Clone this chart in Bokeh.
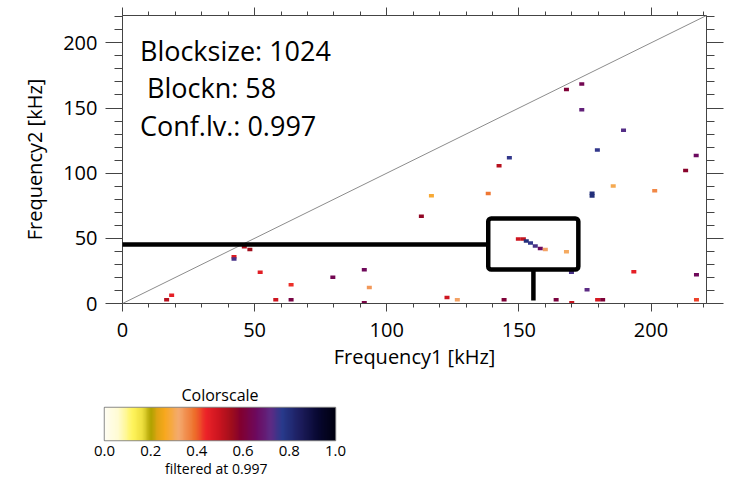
import numpy as np
from bokeh.plotting import figure
from bokeh.layouts import column, row
from bokeh.models import (Label, Slope, BoxAnnotation, Arrow, LinearAxis, FixedTicker,
                          LinearColorMapper, Range1d, PrintfTickFormatter, ColumnDataSource,
                          CustomJSTickFormatter)
from bokeh.transform import linear_cmap
from bokeh.embed import file_html
from bokeh.resources import INLINE

# ---------------- data ----------------
freq1 = [42.2, 42.2, 46.1, 48.2, 52.1, 18.6, 16.7, 58.0, 63.8, 63.8,
         113.1, 79.6, 91.5, 93.4, 91.5, 122.8, 126.7, 144.4,
         149.8, 151.7, 152.8, 154.4, 156.2, 158.1, 160.0,
         168.0, 169.9, 175.8, 193.5, 217.2, 217.2, 164.1, 170.0, 179.8, 181.7,
         168.0, 173.8, 173.8, 189.6, 179.7, 146.4, 142.5, 217.1, 213.1,
         185.7, 201.4, 177.7, 177.7, 138.4, 116.9]
freq2 = [35.8, 34.2, 43.5, 41.5, 24.0, 6.4, 2.8, 2.8, 14.3, 2.8,
         67.0, 20.2, 25.9, 12.3, 0.5, 4.6, 2.8, 2.8,
         49.5, 49.5, 48.0, 46.4, 44.1, 42.2, 41.5,
         39.7, 24.0, 10.5, 24.3, 22.0, 2.8, 2.8, 0.5, 2.8, 2.8,
         164.3, 168.4, 148.7, 133.0, 117.7, 111.9, 105.7, 113.6, 102.1,
         90.1, 86.5, 84.6, 82.4, 84.4, 82.7]
level = [0.47, 0.74, 0.52, 0.55, 0.46, 0.45, 0.52, 0.49, 0.43, 0.62,
         0.57, 0.64, 0.65, 0.34, 0.62, 0.49, 0.33, 0.60,
         0.49, 0.51, 0.80, 0.76, 0.74, 0.66, 0.33,
         0.31, 0.74, 0.72, 0.45, 0.65, 0.42, 0.61, 0.50, 0.48, 0.60,
         0.60, 0.64, 0.70, 0.73, 0.76, 0.76, 0.52, 0.66, 0.58,
         0.30, 0.36, 0.80, 0.80, 0.38, 0.28]

x_ticks = [0, 50, 100, 150, 200]
y_ticks = [0, 50, 100, 150, 200]
cbar_ticks = [0.0, 0.2, 0.4, 0.6, 0.8, 1.0]
info_lines = ["Blocksize: 1024", "Blockn: 58", "Conf.lv.: 0.997"]
callout_box = dict(left=138.4, right=172.5, bottom=26.1, top=65.3)
callout_hline = dict(x0=-4.7, x1=138.4, y=45.3)
callout_vline = dict(x=155.5, y0=26.1, y1=2.3)

# ---------------- colour scale ----------------
anchors = [(0.00, "#fffdf2"), (0.06, "#fffbd0"), (0.12, "#fff45c"), (0.16, "#efe040"),
           (0.20, "#b0a200"), (0.23, "#e0a414"), (0.26, "#f8a81c"), (0.32, "#f4aa6e"),
           (0.39, "#ee6f2a"), (0.44, "#ec2228"), (0.50, "#c8141f"), (0.55, "#a00e1c"),
           (0.59, "#820030"), (0.66, "#6c0a60"), (0.72, "#5e2a84"), (0.77, "#283a8c"),
           (0.85, "#1c1c5c"), (0.93, "#07072e"), (1.00, "#000010")]

def hex2rgb(h):
    return [int(h[i:i + 2], 16) for i in (1, 3, 5)]

pos = np.array([a[0] for a in anchors])
rgb = np.array([hex2rgb(a[1]) for a in anchors], dtype=float)
t = np.linspace(0, 1, 256)
palette = ["#%02x%02x%02x" % tuple(int(round(np.interp(tt, pos, rgb[:, k]))) for k in range(3)) for tt in t]

FONT = "Open Sans"
AX = "#444444"

# ---------------- main plot ----------------
p = figure(width=729, height=375, output_backend="svg", toolbar_location=None,
           x_range=Range1d(0, 221), y_range=Range1d(0, 221),
           min_border_left=122, min_border_right=23, min_border_top=15, min_border_bottom=72)
p.grid.visible = False
p.outline_line_color = None
p.background_fill_color = "white"

blank = CustomJSTickFormatter(code="return ''")

def style_axis(ax, major_out, minor_out, ticks, labels=True):
    ax.ticker = FixedTicker(ticks=ticks, minor_ticks=list(range(0, 230, 10)))
    ax.axis_line_color = AX
    ax.major_tick_line_color = AX
    ax.minor_tick_line_color = AX
    ax.major_tick_in = 0
    ax.minor_tick_in = 0
    ax.major_tick_out = major_out
    ax.minor_tick_out = minor_out
    ax.major_label_text_font = FONT
    ax.axis_label_text_font = FONT
    ax.axis_label_text_font_style = "normal"
    ax.axis_label_text_color = "black"
    ax.major_label_text_color = "black"
    if labels:
        ax.major_label_text_font_size = "20px"
        ax.axis_label_text_font_size = "20px"
    else:
        ax.formatter = blank
        ax.major_label_text_font_size = "1px"
        ax.major_label_standoff = 0

style_axis(p.xaxis[0], 8, 4, x_ticks)
p.xaxis[0].axis_label = "Frequency1 [kHz]"
p.xaxis[0].major_label_standoff = 11
p.xaxis[0].axis_label_standoff = 3
style_axis(p.yaxis[0], 17, 8, y_ticks)
p.yaxis[0].axis_label = "Frequency2 [kHz]"
p.yaxis[0].major_label_standoff = 8
p.yaxis[0].axis_label_standoff = 12

top_ax = LinearAxis()
style_axis(top_ax, 8, 4, x_ticks, labels=False)
p.add_layout(top_ax, "above")
right_ax = LinearAxis()
style_axis(right_ax, 17, 8, y_ticks, labels=False)
p.add_layout(right_ax, "right")

p.add_layout(Slope(gradient=1, y_intercept=0, line_color="#8c8c8c", line_width=1))

src = ColumnDataSource(dict(x=freq1, y=freq2, v=level))
p.rect("x", "y", width=5, height=3.5, width_units="screen", height_units="screen",
       source=src, line_color=None,
       fill_color=linear_cmap("v", palette, 0, 1))

# callout
p.add_layout(BoxAnnotation(fill_alpha=0, line_color="black", line_alpha=1, line_width=4.5,
                           border_radius=3, **callout_box))
p.add_layout(Arrow(end=None, x_start=callout_hline["x0"], x_end=callout_hline["x1"],
                   y_start=callout_hline["y"], y_end=callout_hline["y"],
                   line_color="black", line_width=4.5))
p.add_layout(Arrow(end=None, x_start=callout_vline["x"], x_end=callout_vline["x"],
                   y_start=callout_vline["y0"], y_end=callout_vline["y1"],
                   line_color="black", line_width=4.5))

info_x = [6.6, 9.3, 6.6]
info_y = [194.2, 165.8, 136.7]
for txt, xx, yy in zip(info_lines, info_x, info_y):
    p.add_layout(Label(x=xx, y=yy, text=txt, text_font=FONT, text_font_size="27px",
                       text_baseline="middle", text_color="black"))

# ---------------- colour bar ----------------
mapper = LinearColorMapper(palette=palette, low=0, high=1)
c = figure(width=729, height=105, output_backend="svg", toolbar_location=None,
           x_range=Range1d(0, 1), y_range=Range1d(0, 1), title="Colorscale",
           min_border_left=104, min_border_right=394, min_border_top=32, min_border_bottom=38)
c.title.align = "center"
c.title.text_font = FONT
c.title.text_font_size = "16px"
c.title.text_font_style = "normal"
c.title.text_color = "black"
c.title.standoff = 4
c.grid.visible = False
c.yaxis.visible = False
c.outline_line_color = "#8a8a8a"
c.outline_line_width = 1.5
c.image(image=[np.linspace(0, 1, 512)[None, :]], x=0, y=0, dw=1, dh=1, color_mapper=mapper)
cx = c.xaxis[0]
cx.ticker = FixedTicker(ticks=cbar_ticks)
cx.formatter = PrintfTickFormatter(format="%.1f")
cx.axis_line_color = None
cx.major_tick_line_color = None
cx.minor_tick_line_color = None
cx.major_tick_out = 0
cx.major_label_text_font = FONT
cx.major_label_text_font_size = "15px"
cx.major_label_text_color = "black"
cx.major_label_standoff = 5
cx.axis_label = "filtered  at  0.997"
cx.axis_label_text_font = FONT
cx.axis_label_text_font_size = "14px"
cx.axis_label_text_font_style = "normal"
cx.axis_label_text_color = "black"
cx.axis_label_standoff = 0

layout = column(p, row(c), spacing=0)
open("out.html", "w").write(file_html(layout, INLINE))
